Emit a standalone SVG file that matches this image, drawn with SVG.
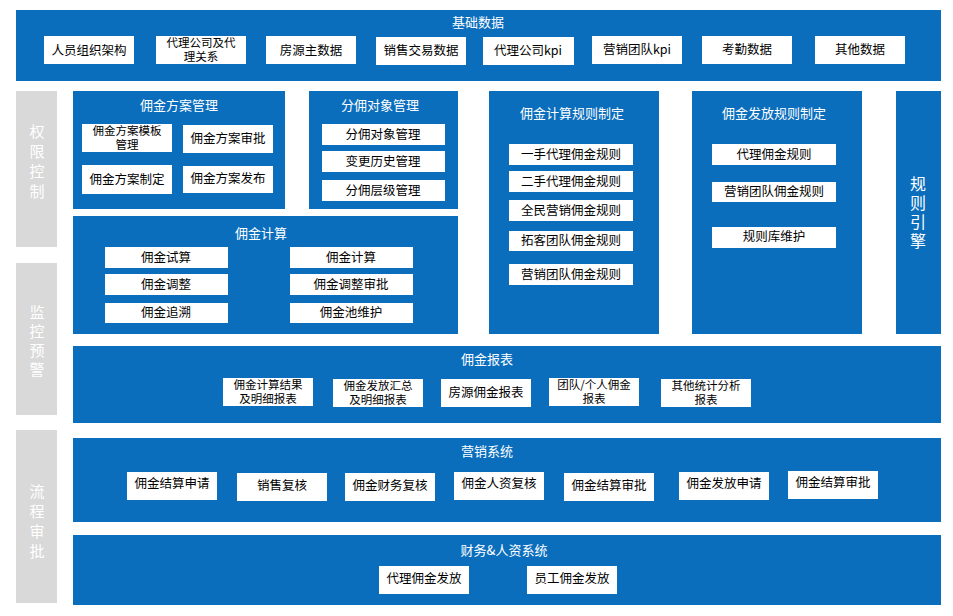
<svg xmlns="http://www.w3.org/2000/svg" width="953" height="616" viewBox="0 0 953 616">
<style>
.b{fill:#0a6ebd}
.g{fill:#d9d9d9}
.w{fill:#fff}
text{font-family:"Noto Sans CJK SC","Liberation Sans",sans-serif;text-anchor:middle}
.t{fill:#fff;font-size:13px}
.i{fill:#000;font-size:12.5px}
.s{fill:#000;font-size:11.5px}
.v{fill:#fff;font-size:15px}
.r{fill:#fff;font-size:16px}
</style>
<rect width="953" height="616" fill="#fff"/>
<g id="side">
<rect class="g" x="16" y="91" width="41" height="156"/>
<text class="v" x="37" y="137">权</text><text class="v" x="37" y="157">限</text><text class="v" x="37" y="177">控</text><text class="v" x="37" y="197">制</text>
<rect class="g" x="16" y="263" width="41" height="152"/>
<text class="v" x="37" y="318">监</text><text class="v" x="37" y="337">控</text><text class="v" x="37" y="356">预</text><text class="v" x="37" y="375">警</text>
<rect class="g" x="16" y="430" width="41" height="173"/>
<text class="v" x="37" y="497">流</text><text class="v" x="37" y="517">程</text><text class="v" x="37" y="537">审</text><text class="v" x="37" y="557">批</text>
</g>
<g id="base">
<rect class="b" x="16" y="10" width="925" height="71"/>
<text class="t" x="478" y="27">基础数据</text>
<rect class="w" x="44" y="36" width="90" height="28"/><text class="i" x="89" y="55">人员组织架构</text>
<rect class="w" x="156" y="36" width="90" height="28"/><text class="s" x="201" y="47">代理公司及代</text><text class="s" x="201" y="61">理关系</text>
<rect class="w" x="266" y="36" width="90" height="28"/><text class="i" x="311" y="55">房源主数据</text>
<rect class="w" x="376" y="37" width="90" height="28"/><text class="i" x="421" y="55">销售交易数据</text>
<rect class="w" x="483" y="37" width="91" height="28"/><text class="i" x="528" y="55">代理公司kpi</text>
<rect class="w" x="592" y="36" width="90" height="28"/><text class="i" x="637" y="54">营销团队kpi</text>
<rect class="w" x="702" y="36" width="90" height="28"/><text class="i" x="747" y="54">考勤数据</text>
<rect class="w" x="815" y="36" width="90" height="28"/><text class="i" x="860" y="54">其他数据</text>
</g>
<g id="plan">
<rect class="b" x="73" y="91" width="212" height="118"/>
<text class="t" x="179" y="110">佣金方案管理</text>
<rect class="w" x="82" y="124" width="90" height="28"/><text class="s" x="127" y="135">佣金方案模板</text><text class="s" x="127" y="149">管理</text>
<rect class="w" x="183" y="125" width="90" height="28"/><text class="i" x="228" y="143">佣金方案审批</text>
<rect class="w" x="82" y="165" width="90" height="29"/><text class="i" x="127" y="184">佣金方案制定</text>
<rect class="w" x="183" y="166" width="90" height="27"/><text class="i" x="228" y="183">佣金方案发布</text>
</g>
<g id="target">
<rect class="b" x="309" y="91" width="149" height="118"/>
<text class="t" x="380" y="110">分佣对象管理</text>
<rect class="w" x="322" y="124" width="123" height="21"/><text class="i" x="383" y="139">分佣对象管理</text>
<rect class="w" x="322" y="151" width="123" height="21"/><text class="i" x="383" y="166">变更历史管理</text>
<rect class="w" x="322" y="180" width="123" height="21"/><text class="i" x="383" y="195">分佣层级管理</text>
</g>
<g id="calc">
<rect class="b" x="73" y="216" width="385" height="118"/>
<text class="t" x="261" y="238">佣金计算</text>
<rect class="w" x="105" y="247" width="123" height="21"/><text class="i" x="166" y="262">佣金试算</text>
<rect class="w" x="105" y="274" width="123" height="21"/><text class="i" x="166" y="289">佣金调整</text>
<rect class="w" x="105" y="303" width="123" height="20"/><text class="i" x="166" y="317">佣金追溯</text>
<rect class="w" x="290" y="247" width="123" height="21"/><text class="i" x="351" y="262">佣金计算</text>
<rect class="w" x="290" y="274" width="123" height="21"/><text class="i" x="351" y="289">佣金调整审批</text>
<rect class="w" x="290" y="303" width="123" height="20"/><text class="i" x="351" y="317">佣金池维护</text>
</g>
<g id="calcrule">
<rect class="b" x="489" y="91" width="170" height="243"/>
<text class="t" x="572" y="118">佣金计算规则制定</text>
<rect class="w" x="509" y="144" width="124" height="21"/><text class="i" x="571" y="159">一手代理佣金规则</text>
<rect class="w" x="509" y="171" width="124" height="21"/><text class="i" x="571" y="186">二手代理佣金规则</text>
<rect class="w" x="509" y="200" width="124" height="21"/><text class="i" x="571" y="215">全民营销佣金规则</text>
<rect class="w" x="509" y="231" width="124" height="20"/><text class="i" x="571" y="245">拓客团队佣金规则</text>
<rect class="w" x="509" y="264" width="124" height="21"/><text class="i" x="571" y="279">营销团队佣金规则</text>
</g>
<g id="payrule">
<rect class="b" x="692" y="91" width="170" height="243"/>
<text class="t" x="774" y="118">佣金发放规则制定</text>
<rect class="w" x="712" y="144" width="124" height="21"/><text class="i" x="774" y="159">代理佣金规则</text>
<rect class="w" x="712" y="182" width="124" height="20"/><text class="i" x="774" y="196">营销团队佣金规则</text>
<rect class="w" x="712" y="227" width="124" height="21"/><text class="i" x="774" y="241">规则库维护</text>
</g>
<g id="engine">
<rect class="b" x="896" y="91" width="45" height="243"/>
<text class="r" x="918" y="190">规</text><text class="r" x="918" y="209">则</text><text class="r" x="918" y="228">引</text><text class="r" x="918" y="247">擎</text>
</g>
<g id="report">
<rect class="b" x="73" y="346" width="868" height="77"/>
<text class="t" x="487" y="364">佣金报表</text>
<rect class="w" x="223" y="378" width="90" height="28"/><text class="s" x="268" y="389">佣金计算结果</text><text class="s" x="268" y="403">及明细报表</text>
<rect class="w" x="333" y="379" width="90" height="28"/><text class="s" x="378" y="390">佣金发放汇总</text><text class="s" x="378" y="404">及明细报表</text>
<rect class="w" x="441" y="379" width="90" height="28"/><text class="i" x="486" y="397">房源佣金报表</text>
<rect class="w" x="549" y="378" width="90" height="28"/><text class="s" x="594" y="389">团队/个人佣金</text><text class="s" x="594" y="403">报表</text>
<rect class="w" x="661" y="379" width="90" height="28"/><text class="s" x="706" y="390">其他统计分析</text><text class="s" x="706" y="404">报表</text>
</g>
<g id="marketing">
<rect class="b" x="73" y="438" width="868" height="84"/>
<text class="t" x="487" y="456">营销系统</text>
<rect class="w" x="127" y="472" width="90" height="28"/><text class="i" x="172" y="488">佣金结算申请</text>
<rect class="w" x="237" y="473" width="90" height="28"/><text class="i" x="282" y="490">销售复核</text>
<rect class="w" x="345" y="473" width="90" height="28"/><text class="i" x="390" y="490">佣金财务复核</text>
<rect class="w" x="454" y="472" width="90" height="28"/><text class="i" x="499" y="488">佣金人资复核</text>
<rect class="w" x="564" y="473" width="90" height="28"/><text class="i" x="609" y="490">佣金结算审批</text>
<rect class="w" x="679" y="472" width="90" height="28"/><text class="i" x="724" y="488">佣金发放申请</text>
<rect class="w" x="788" y="471" width="90" height="28"/><text class="i" x="833" y="487">佣金结算审批</text>
</g>
<g id="finance">
<rect class="b" x="73" y="535" width="868" height="70"/>
<text class="t" x="504" y="555">财务&amp;人资系统</text>
<rect class="w" x="379" y="566" width="90" height="28"/><text class="i" x="424" y="583">代理佣金发放</text>
<rect class="w" x="527" y="566" width="90" height="28"/><text class="i" x="572" y="583">员工佣金发放</text>
</g>
<g id="connectors"/>
</svg>
